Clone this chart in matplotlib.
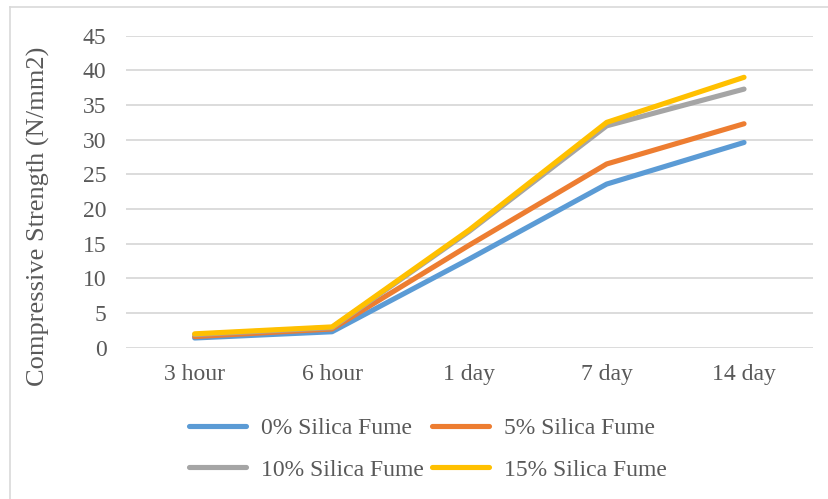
import matplotlib
matplotlib.use("Agg")
import matplotlib.pyplot as plt
from matplotlib.lines import Line2D

# Data
ages = ["3 hour", "6 hour", "1 day", "7 day", "14 day"]
sf_0 = [1.4, 2.3, 12.8, 23.6, 29.6]
sf_5 = [1.6, 2.7, 14.8, 26.5, 32.3]
sf_10 = [1.9, 2.9, 16.8, 32.0, 37.3]
sf_15 = [2.0, 3.0, 17.0, 32.5, 39.0]
series_labels = ["0% Silica Fume", "5% Silica Fume", "10% Silica Fume", "15% Silica Fume"]
y_ticks = [0, 5, 10, 15, 20, 25, 30, 35, 40, 45]

colors = ["#5B9BD5", "#ED7D31", "#A5A5A5", "#FFC000"]
text_color = "#595959"
grid_color = "#D9D9D9"

plt.rcParams["font.family"] = ["Liberation Serif", "DejaVu Serif"]

W, H = 829, 499
fig = plt.figure(figsize=(W / 100, H / 100), dpi=100)
ax = fig.add_axes([126 / W, 1 - 347.7 / H, (812.7 - 126) / W, (347.7 - 35.7) / H])

x = list(range(len(ages)))
lines = []
for vals, c, lab in zip([sf_0, sf_5, sf_10, sf_15], colors, series_labels):
    ln, = ax.plot(x, vals, color=c, lw=3.7, label=lab,
                  solid_capstyle="round", solid_joinstyle="round", zorder=3)
    lines.append(ln)

ax.set_xlim(-0.5, len(ages) - 0.5)
ax.set_ylim(0, 45)
ax.set_yticks(y_ticks)
ax.set_xticks(x)
ax.set_xticklabels(ages)
ax.yaxis.grid(True, color=grid_color, lw=1.3)
ax.set_axisbelow(True)
for s in ax.spines.values():
    s.set_visible(False)
ax.tick_params(axis="both", length=0, labelsize=17, colors=text_color)
ax.tick_params(axis="y", pad=14)
ax.tick_params(axis="x", pad=12)

fig.text(38 / W, 1 - 216 / H, "Compressive Strength (N/mm2)", rotation=90,
         ha="center", va="center", fontsize=19, color=text_color)

# Legend laid out row by row (two entries per row)
order = [0, 2, 1, 3]
leg = fig.legend([lines[i] for i in order], [series_labels[i] for i in order],
                 loc="center", bbox_to_anchor=(428 / W, 1 - 449 / H), ncol=2,
                 frameon=False, fontsize=17, handlelength=2.4, handletextpad=0.65,
                 columnspacing=0.35, labelspacing=0.85)
for t in leg.get_texts():
    t.set_color(text_color)
for h in leg.get_lines():
    h.set_linewidth(3.7)
    h.set_solid_capstyle("round")

# Chart area border
fig.add_artist(Line2D([10 / W, 10 / W], [0, 1 - 7 / H], transform=fig.transFigure,
                      color=grid_color, lw=1.2))
fig.add_artist(Line2D([10 / W, 1], [1 - 7 / H, 1 - 7 / H], transform=fig.transFigure,
                      color=grid_color, lw=1.2))

fig.savefig("out.png", dpi=100)
